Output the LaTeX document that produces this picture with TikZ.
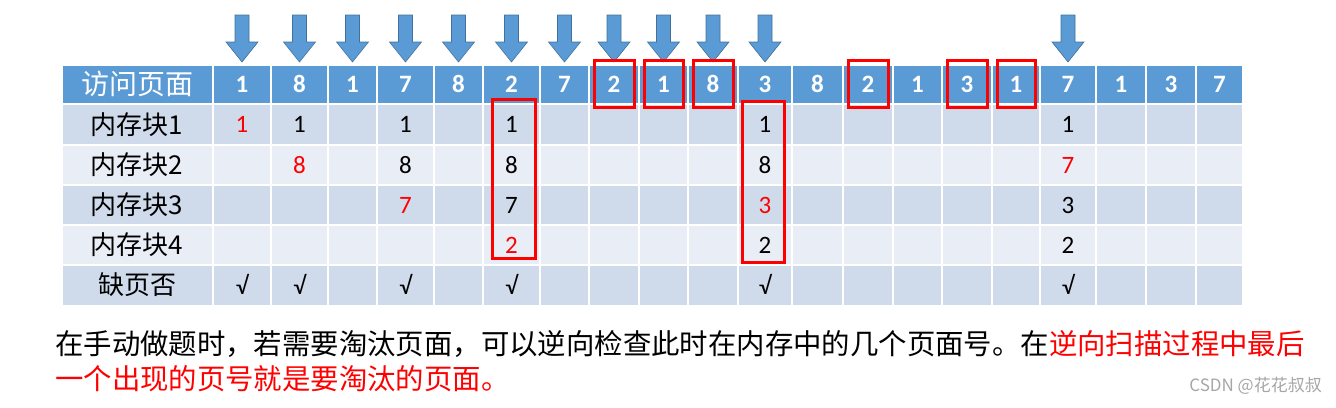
\documentclass[tikz,border=0pt]{standalone}
\usepackage{fontspec}
\setmainfont{Carlito}
\newfontfamily\cjk{Noto Sans CJK SC}
\definecolor{hd}{HTML}{5B9BD5}
\definecolor{ra}{HTML}{CFDAEB}
\definecolor{rb}{HTML}{E9EEF6}
\definecolor{ar}{HTML}{5B9BD5}
\definecolor{ard}{HTML}{41719C}
\begin{document}
\begin{tikzpicture}[x=1pt,y=-1pt,
  cell/.style={font=\fontsize{25}{25}\selectfont},
  hcell/.style={font=\fontsize{25}{25}\selectfont\bfseries,text=white},
  lab/.style={font=\cjk\fontsize{26}{26}\selectfont},
  redbox/.style={draw=red,line width=3pt},
  dnarrow/.style={fill=ar,draw=ard,line width=0.6pt}]
\useasboundingbox (0,0) rectangle (1336,407);
\def\xs{{62,213,271,328,377,434,483,540,589,639,688,738,792,843,893,942,992,1040,1096,1146,1196,1243}}
\def\ys{{65,104,145,185,225,265,306}}
\foreach \r in {0,...,5}{
  \foreach \c in {0,...,20}{
    \pgfmathtruncatemacro\cn{\c+1}\pgfmathtruncatemacro\rn{\r+1}
    \pgfmathsetmacro\xa{\xs[\c]+1}\pgfmathsetmacro\xb{\xs[\cn]-1}
    \pgfmathsetmacro\ya{\ys[\r]+1}\pgfmathsetmacro\yb{\ys[\rn]-1}
    \ifnum\r=0 \def\cc{hd}\else\ifodd\r \def\cc{ra}\else\def\cc{rb}\fi\fi
    \fill[\cc] (\xa,\ya) rectangle (\xb,\yb);
  }
}
\node[lab,text=white,font=\cjk\fontsize{28}{28}\selectfont] (h0) at (137,84) {访问页面};
\foreach \v [count=\i] in {1,8,1,7,8,2,7,2,1,8,3,8,2,1,3,1,7,1,3,7}{
  \pgfmathtruncatemacro\ip{\i+1}
  \pgfmathsetmacro\xa{\xs[\i]}\pgfmathsetmacro\xb{\xs[\ip]}
  \pgfmathsetmacro\xc{(\xa+\xb)/2}
  \node[hcell] (h\i) at (\xc,84) {\v};
}
\foreach \t/\yc [count=\r] in {内存块1/124.5,内存块2/165,内存块3/205,内存块4/245}{
  \node[lab] (l\r) at (137,\yc) {\t};
}
\node[lab] (l5) at (137,285) {缺页否};
\foreach \c/\yc/\v/\col in {1/124.5/1/red,2/124.5/1/black,2/165/8/red,4/124.5/1/black,4/165/8/black,4/205/7/red,
  6/124.5/1/black,6/165/8/black,6/205/7/black,6/245/2/red,
  11/124.5/1/black,11/165/8/black,11/205/3/red,11/245/2/black,
  17/124.5/1/black,17/165/7/red,17/205/3/black,17/245/2/black}{
  \pgfmathtruncatemacro\ip{\c+1}
  \pgfmathsetmacro\xa{\xs[\c]}\pgfmathsetmacro\xb{\xs[\ip]}
  \pgfmathsetmacro\xc{(\xa+\xb)/2}
  \node[cell,text=\col] at (\xc,\yc) {\v};
}
\foreach \c in {1,2,4,6,11,17}{
  \pgfmathtruncatemacro\ip{\c+1}
  \pgfmathsetmacro\xa{\xs[\c]}\pgfmathsetmacro\xb{\xs[\ip]}
  \pgfmathsetmacro\xc{(\xa+\xb)/2}
  \node[cell] (v\c) at (\xc,284) {√};
}
\foreach \c in {1,...,11,17}{
  \pgfmathtruncatemacro\ip{\c+1}
  \pgfmathsetmacro\xa{\xs[\c]}\pgfmathsetmacro\xb{\xs[\ip]}
  \pgfmathsetmacro\xc{(\xa+\xb)/2}
  \filldraw[dnarrow] (\xc-7,15) -- (\xc+7,15) -- (\xc+7,42) -- (\xc+16,42) -- (\xc,62) -- (\xc-16,42) -- (\xc-7,42) -- cycle;
}
\foreach \c in {8,9,10,13,15,16}{
  \pgfmathtruncatemacro\ip{\c+1}
  \pgfmathsetmacro\xa{\xs[\c]+5}\pgfmathsetmacro\xb{\xs[\ip]-5}
  \draw[redbox] (\xa,60) rectangle (\xb,107);
}
\draw[redbox] (492,99) rectangle (535,258);
\draw[redbox] (742,101) rectangle (784,262);
\node[anchor=west,font=\cjk\fontsize{28.4}{28}\selectfont,inner sep=0] (t1) at (55,344) {在手动做题时，若需要淘汰页面，可以逆向检查此时在内存中的几个页面号。在\textcolor{red}{逆向扫描过程中最后}};
\node[anchor=west,font=\cjk\fontsize{28.4}{28}\selectfont,inner sep=0,text=red] (t2) at (55,379) {一个出现的页号就是要淘汰的页面。};
\node[anchor=east,font=\cjk\fontsize{17}{17}\selectfont,text=gray!70,inner sep=0] (wm) at (1322,386) {CSDN @花花叔叔};
\end{tikzpicture}
\end{document}
